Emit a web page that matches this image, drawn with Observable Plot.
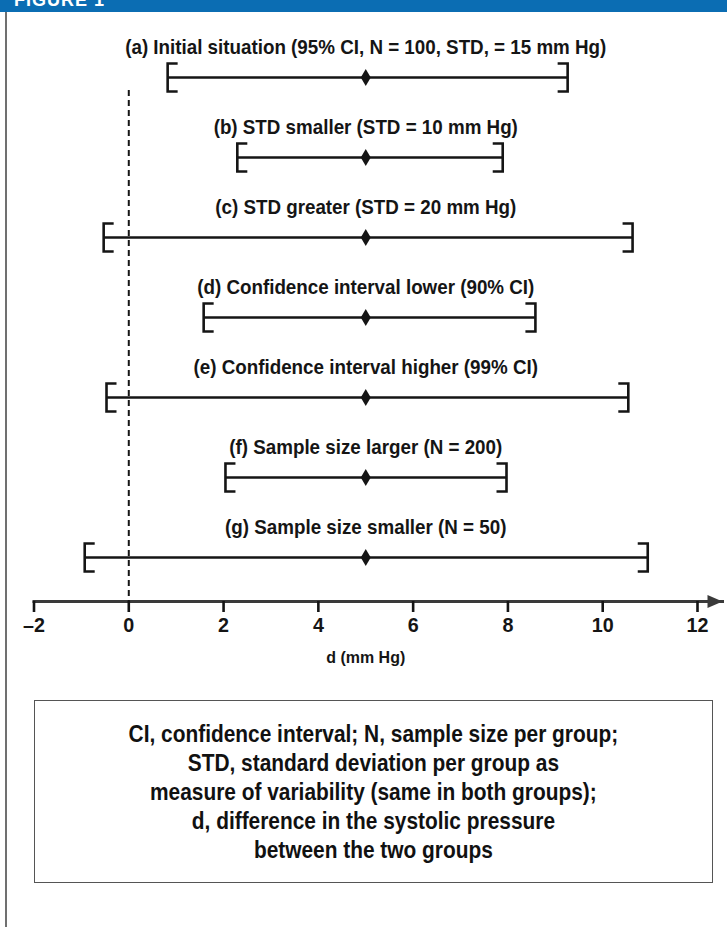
<!DOCTYPE html>
<html><head><meta charset="utf-8">
<script src="https://cdn.jsdelivr.net/npm/d3@7"></script>
<script src="https://cdn.jsdelivr.net/npm/@observablehq/plot@0.6"></script>
<style>
body{margin:0;background:#fff;}
#page{position:relative;width:727px;height:927px;overflow:hidden;background:#fff;font-family:"Liberation Sans",Arial,sans-serif;}
#hdr{height:12px;background:#0b6db3;overflow:hidden;position:relative;}
#hdr span{position:absolute;left:14px;top:-10px;color:#fff;font-weight:bold;font-size:18px;letter-spacing:1px;}
#vline{position:absolute;left:5px;top:12px;width:2px;height:915px;background:#707070;}
#chart svg{display:block;}
#chart g[aria-label*="x-axis"] path, #chart g[aria-label*="x-axis"] line{stroke-width:2.6px !important;}
#chart [aria-label="x-axis line"], #chart [aria-label="frame"]{stroke-width:3px;stroke:#3a3a3a;}
#box{position:absolute;left:34px;top:700px;width:677px;height:181px;border:1.5px solid #555;display:flex;align-items:center;justify-content:center;text-align:center;font-weight:bold;font-size:24px;line-height:29px;color:#111;}
#boxtext{transform:scaleX(0.87);white-space:nowrap;}
</style>
</head><body>
<div id="page">
  <div id="hdr"><span>FIGURE 1</span></div>
  <div id="vline"></div>
  <div id="chart"></div>
  <div id="box"><div id="boxtext"></div></div>
</div>
<script>
// ---- data ----
const rowIds = ["a", "b", "c", "d", "e", "f", "g"];
const rowLabels = [
  "(a) Initial situation (95% CI, N = 100, STD, = 15 mm Hg)",
  "(b) STD smaller (STD = 10 mm Hg)",
  "(c) STD greater (STD = 20 mm Hg)",
  "(d) Confidence interval lower (90% CI)",
  "(e) Confidence interval higher (99% CI)",
  "(f) Sample size larger (N = 200)",
  "(g) Sample size smaller (N = 50)"
];
const lower = [0.82, 2.29, -0.53, 1.58, -0.47, 2.04, -0.93];
const upper = [9.26, 7.89, 10.63, 8.58, 10.54, 7.97, 10.95];
const means = [5, 5, 5, 5, 5, 5, 5];
const xTicks = [-2, 0, 2, 4, 6, 8, 10, 12];
const xTickLabels = ["–2", "0", "2", "4", "6", "8", "10", "12"];
const xLabel = "d (mm Hg)";
const refLine = [0];
const captionLines = [
  "CI, confidence interval; N, sample size per group;",
  "STD, standard deviation per group as",
  "measure of variability (same in both groups);",
  "d, difference in the systolic pressure",
  "between the two groups"
];

const rows = rowIds.map((id, i) => ({id, label: rowLabels[i], lo: lower[i], hi: upper[i], mean: means[i]}));
const ticks = xTicks.map((v, i) => ({v, label: xTickLabels[i]}));

// custom symbols
const leftBracket = {draw(c) { c.moveTo(10, -14); c.lineTo(0, -14); c.lineTo(0, 14); c.lineTo(10, 14); }};
const rightBracket = {draw(c) { c.moveTo(-10, -14); c.lineTo(0, -14); c.lineTo(0, 14); c.lineTo(-10, 14); }};
const diamond = {draw(c) { c.moveTo(0, -8.5); c.lineTo(5, 0); c.lineTo(0, 8.5); c.lineTo(-5, 0); c.closePath(); }};
const arrowHead = {draw(c) { c.moveTo(0, 0); c.lineTo(-15, -6.5); c.lineTo(-15, 6.5); c.closePath(); }};

const ink = "#151515";
const font = '"Liberation Sans",Arial,sans-serif';

const plot = Plot.plot({
  width: 727,
  height: 670,
  marginTop: 78,
  marginBottom: 81,
  marginLeft: 33.5,
  marginRight: 5,
  style: {fontFamily: font, fontWeight: "bold", fontSize: "20px", color: ink, background: "transparent"},
  x: {domain: [-2, 12], range: [33.5, 697], ticks: xTicks, tickSize: 11, tickFormat: () => "", label: null, line: true},
  y: {type: "point", domain: rowIds, range: [63, 546], padding: 0, axis: null},
  marks: [
    Plot.ruleX(refLine, {stroke: ink, strokeWidth: 2, strokeDasharray: "6,4"}),
    Plot.ruleY(rows, {x1: "lo", x2: "hi", y: "id", stroke: ink, strokeWidth: 2.6}),
    Plot.dot(rows, {x: "lo", y: "id", symbol: leftBracket, fill: "none", stroke: ink, strokeWidth: 2.6}),
    Plot.dot(rows, {x: "hi", y: "id", symbol: rightBracket, fill: "none", stroke: ink, strokeWidth: 2.6}),
    Plot.dot(rows, {x: "mean", y: "id", symbol: diamond, fill: ink, stroke: "none"}),
    Plot.text(rows, {x: "mean", y: "id", text: "label", dy: -30, fontSize: 20, fontWeight: "bold", fill: ink}),
    Plot.dot([0], {frameAnchor: "bottom-right", symbol: arrowHead, fill: "#3a3a3a", stroke: "none"}),
    Plot.text(ticks, {x: "v", text: "label", frameAnchor: "bottom", dy: 30, fontSize: 21, fontWeight: "bold", fill: ink}),
    Plot.text([xLabel], {x: () => means[0], frameAnchor: "bottom", dy: 61, text: d => d, fontSize: 17, fontWeight: "bold", fill: ink})
  ]
});

// narrow the lettering of every text in the chart (condensed look)
plot.querySelectorAll("text").forEach(t => {
  const tr = t.getAttribute("transform");
  if (tr) t.setAttribute("transform", tr + " scale(0.94,1)");
  else {
    const x = +t.getAttribute("x") || 0, y = +t.getAttribute("y") || 0;
    t.removeAttribute("x"); t.removeAttribute("y");
    t.setAttribute("transform", `translate(${x},${y}) scale(0.94,1)`);
  }
});
document.getElementById("chart").appendChild(plot);
document.getElementById("boxtext").innerHTML = captionLines.join("<br>");
</script>
</body></html>
